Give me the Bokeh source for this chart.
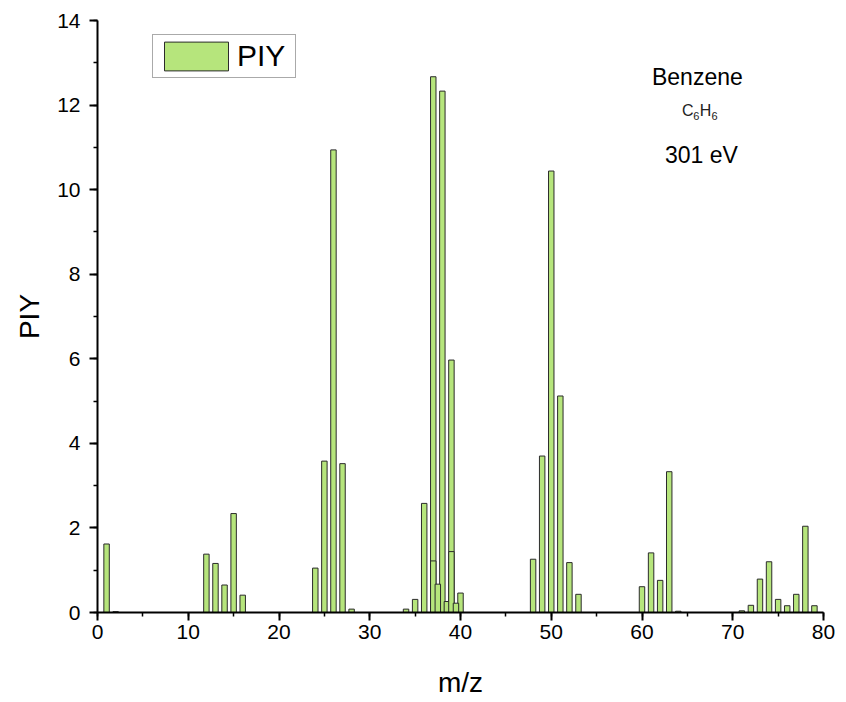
from bokeh.plotting import figure
from bokeh.models import ColumnDataSource, SingleIntervalTicker, Range1d, Label, Legend, LegendItem
from bokeh.embed import file_html
from bokeh.resources import INLINE

# ---- data ----
mz = [1, 2, 12, 13, 14, 15, 16, 24, 25, 26, 27, 28, 34, 35, 36, 37, 38, 39, 40,
      48, 49, 50, 51, 52, 53, 60, 61, 62, 63, 64, 71, 72, 73, 74, 75, 76, 77, 78, 79]
piy = [1.62, 0.02, 1.38, 1.16, 0.65, 2.34, 0.41, 1.05, 3.58, 10.94, 3.52, 0.08,
       0.08, 0.31, 2.58, 12.67, 12.33, 5.97, 0.46,
       1.26, 3.70, 10.44, 5.12, 1.18, 0.43, 0.61, 1.41, 0.76, 3.33, 0.03,
       0.04, 0.17, 0.79, 1.20, 0.31, 0.16, 0.43, 2.04, 0.16]
# overlapping (doubly charged) entries
mz2 = [37, 37.5, 38.5, 39, 39.5]
piy2 = [1.22, 0.67, 0.26, 1.44, 0.22]

x_label = "m/z"
y_label = "PIY"
legend_label = "PIY"
title_lines = ["Benzene", "301 eV"]

FONT = "Liberation Sans"
FILL = "#B6E57C"
EDGE = "#2b2b2b"

p = figure(width=838, height=702, output_backend="svg", toolbar_location=None,
           x_range=Range1d(0, 80), y_range=Range1d(0, 14),
           min_border_left=97, min_border_right=15, min_border_top=20, min_border_bottom=90)
p.outline_line_color = None
p.xgrid.visible = False
p.ygrid.visible = False
p.background_fill_color = "white"
p.border_fill_color = "white"

src = ColumnDataSource(dict(x=mz, y=piy))
src2 = ColumnDataSource(dict(x=mz2, y=piy2))
r1 = p.vbar(x="x", top="y", bottom=0, width=0.6, source=src,
            fill_color=FILL, line_color=EDGE, line_width=1)
r2 = p.vbar(x="x", top="y", bottom=0, width=0.6, source=src2,
            fill_color=FILL, line_color=EDGE, line_width=1)

# axes
p.xaxis.ticker = SingleIntervalTicker(interval=10, num_minor_ticks=2)
p.yaxis.ticker = SingleIntervalTicker(interval=2, num_minor_ticks=2)
for ax in (p.xaxis[0], p.yaxis[0]):
    ax.axis_line_width = 2
    ax.axis_line_color = "black"
    ax.major_tick_line_width = 2
    ax.major_tick_line_color = "black"
    ax.minor_tick_line_width = 1.5
    ax.minor_tick_line_color = "black"
    ax.major_tick_in = 0
    ax.major_tick_out = 8
    ax.minor_tick_in = 0
    ax.minor_tick_out = 4
    ax.major_label_text_font = FONT
    ax.major_label_text_font_size = "21px"
    ax.major_label_text_color = "black"
    ax.axis_label_text_font = FONT
    ax.axis_label_text_font_size = "28px"
    ax.axis_label_text_font_style = "normal"
    ax.axis_label_text_color = "black"
p.xaxis.axis_label = x_label
p.yaxis.axis_label = y_label
p.xaxis.major_label_standoff = 4
p.yaxis.major_label_standoff = 9
p.xaxis.axis_label_standoff = 25
p.yaxis.axis_label_standoff = 9

# legend
legend = Legend(items=[LegendItem(label=legend_label, renderers=[r1])],
                location=(55, 534), orientation="vertical")
legend.glyph_width = 80
legend.glyph_height = 36
legend.padding = 3
legend.margin = 0
legend.spacing = 0
legend.label_standoff = 1
legend.label_width = 55
legend.label_text_font = FONT
legend.label_text_font_size = "30px"
legend.label_text_color = "black"
legend.border_line_color = "#555555"
legend.border_line_width = 1
legend.background_fill_color = "white"
legend.background_fill_alpha = 1
p.add_layout(legend)

# annotation
p.add_layout(Label(x=66.1, y=12.67, text=title_lines[0], text_font=FONT, text_font_size="23px",
                   text_align="center", text_baseline="middle", text_color="black"))
p.add_layout(Label(x=64.40, y=11.87, text="C", text_font=FONT, text_font_size="16px",
                   text_align="left", text_baseline="alphabetic", text_color="#222222"))
p.add_layout(Label(x=65.66, y=11.75, text="6", text_font=FONT, text_font_size="11px",
                   text_align="left", text_baseline="alphabetic", text_color="#222222"))
p.add_layout(Label(x=66.35, y=11.87, text="H", text_font=FONT, text_font_size="16px",
                   text_align="left", text_baseline="alphabetic", text_color="#222222"))
p.add_layout(Label(x=67.65, y=11.75, text="6", text_font=FONT, text_font_size="11px",
                   text_align="left", text_baseline="alphabetic", text_color="#222222"))
p.add_layout(Label(x=66.55, y=10.81, text=title_lines[1], text_font=FONT, text_font_size="23px",
                   text_align="center", text_baseline="middle", text_color="black"))

open("out.html", "w").write(file_html(p, INLINE))
